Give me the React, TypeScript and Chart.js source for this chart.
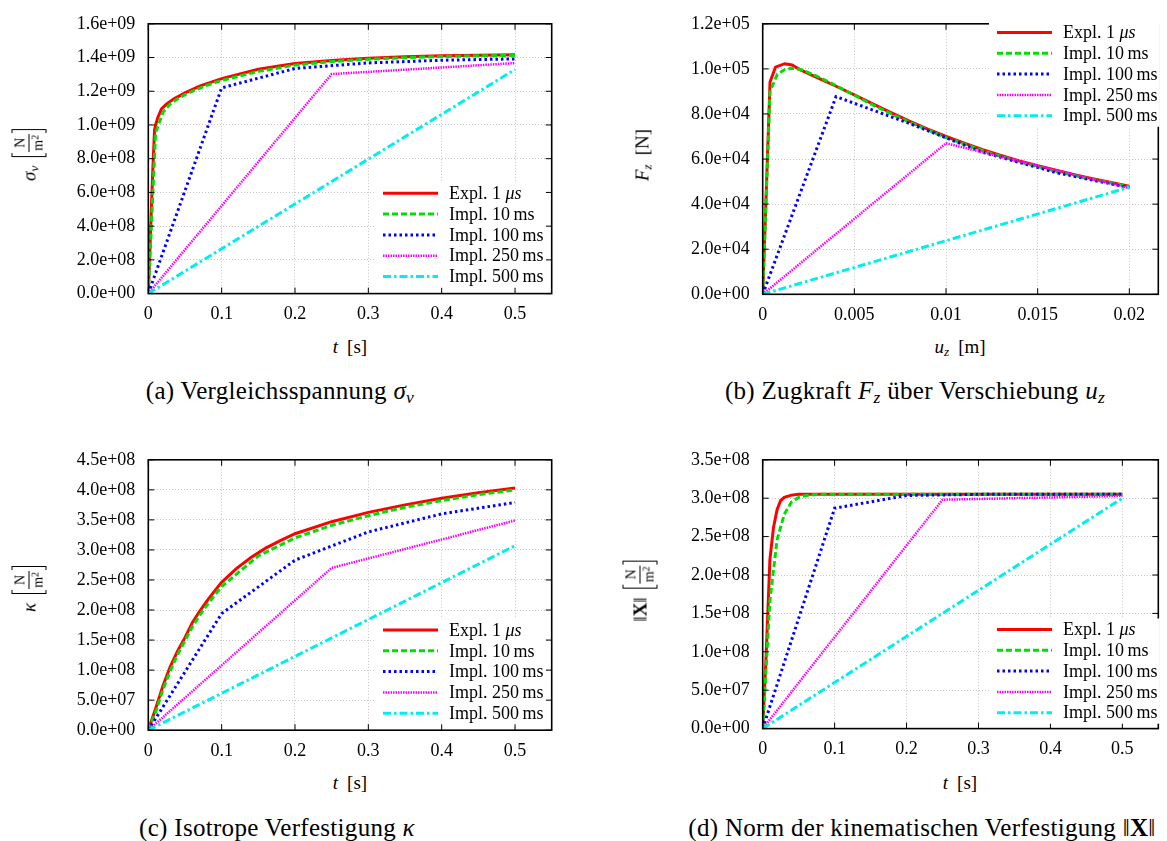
import React, { useEffect, useRef } from 'react';
import { Chart, registerables } from 'chart.js';

Chart.register(...registerables);

const FONT = "'Liberation Serif', 'Times New Roman', serif";
Chart.defaults.font.family = FONT;
Chart.defaults.font.size = 18;
Chart.defaults.color = '#000';

const SERIES_LABELS = ['Expl. 1 μs', 'Impl. 10\u2009ms', 'Impl. 100\u2009ms', 'Impl. 250\u2009ms', 'Impl. 500\u2009ms'];

// ---- shared time grids of the implicit runs ----
const tImpl10 = [0, 0.01, 0.02, 0.03, 0.04, 0.05, 0.06, 0.07, 0.08, 0.09, 0.1, 0.15, 0.2, 0.25, 0.3, 0.35, 0.4, 0.45, 0.5];
const tImpl100 = [0, 0.1, 0.2, 0.3, 0.4, 0.5];
const tImpl250 = [0, 0.25, 0.5];
const tImpl500 = [0, 0.5];

// ---- (a) Vergleichsspannung ----
const tExplA = [0, 0.003, 0.006, 0.0085, 0.01, 0.013, 0.018, 0.025, 0.035, 0.05, 0.07, 0.1, 0.15, 0.2, 0.25, 0.3, 0.35, 0.4, 0.45, 0.5];
const sigExpl = [0, 0.36e9, 0.72e9, 0.97e9, 1.0e9, 1.045e9, 1.095e9, 1.125e9, 1.155e9, 1.19e9, 1.23e9, 1.275e9, 1.33e9, 1.365e9, 1.383e9, 1.396e9, 1.404e9, 1.41e9, 1.414e9, 1.417e9];
const sigImpl10 = [0, 0.955e9, 1.075e9, 1.125e9, 1.155e9, 1.18e9, 1.2e9, 1.218e9, 1.235e9, 1.25e9, 1.264e9, 1.318e9, 1.355e9, 1.376e9, 1.39e9, 1.399e9, 1.406e9, 1.41e9, 1.413e9];
const sigImpl100 = [0, 1.22e9, 1.335e9, 1.368e9, 1.384e9, 1.392e9];
const sigImpl250 = [0, 1.302e9, 1.367e9];
const sigImpl500 = [0, 1.329e9];

// ---- (b) Zugkraft über Verschiebung ----
const uExpl = [0, 0.0002, 0.0004, 0.0007, 0.0012, 0.0016, 0.002, 0.003, 0.004, 0.005, 0.006, 0.007, 0.008, 0.009, 0.01, 0.011, 0.012, 0.013, 0.014, 0.015, 0.016, 0.017, 0.018, 0.019, 0.02];
const fExpl = [0, 47000, 94200, 100800, 102300, 101700, 99800, 96000, 92300, 88500, 84500, 80600, 76800, 73300, 70000, 67000, 64200, 61600, 59200, 57000, 55000, 53100, 51300, 49600, 48000];
const uImpl10 = [0, 0.0004, 0.0008, 0.0012, 0.0016, 0.002, 0.0024, 0.0028, 0.0032, 0.0036, 0.004, 0.006, 0.008, 0.01, 0.012, 0.014, 0.016, 0.018, 0.02];
const fImpl10 = [0, 90000, 97600, 99700, 100300, 99800, 98700, 97300, 95800, 94200, 92600, 84000, 76300, 69500, 63700, 58700, 54500, 50900, 47800];
const uImpl100 = [0, 0.004, 0.008, 0.012, 0.016, 0.02];
const fImpl100 = [0, 87700, 75800, 63000, 54000, 47300];
const uImpl250 = [0, 0.01, 0.02];
const fImpl250 = [0, 67000, 47100];
const uImpl500 = [0, 0.02];
const fImpl500 = [0, 47500];

// ---- (c) Isotrope Verfestigung ----
const tExplC = [0, 0.01, 0.02, 0.03, 0.04, 0.05, 0.06, 0.07, 0.08, 0.09, 0.1, 0.12, 0.14, 0.16, 0.18, 0.2, 0.25, 0.3, 0.35, 0.4, 0.45, 0.5];
const kapExpl = [0, 0.36e8, 0.74e8, 1.06e8, 1.32e8, 1.54e8, 1.79e8, 1.98e8, 2.15e8, 2.31e8, 2.46e8, 2.69e8, 2.875e8, 3.03e8, 3.155e8, 3.27e8, 3.47e8, 3.625e8, 3.75e8, 3.86e8, 3.95e8, 4.03e8];
const kapImpl10 = [0, 0.3e8, 0.68e8, 0.99e8, 1.26e8, 1.49e8, 1.72e8, 1.91e8, 2.08e8, 2.24e8, 2.39e8, 2.9e8, 3.2e8, 3.41e8, 3.57e8, 3.71e8, 3.82e8, 3.92e8, 4.0e8];
const kapImpl100 = [0, 1.94e8, 2.83e8, 3.3e8, 3.6e8, 3.79e8];
const kapImpl250 = [0, 2.7e8, 3.49e8];
const kapImpl500 = [0, 3.07e8];

// ---- (d) Norm der kinematischen Verfestigung ----
const tExplD = [0, 0.005, 0.01, 0.015, 0.02, 0.025, 0.03, 0.04, 0.05, 0.1, 0.2, 0.3, 0.4, 0.5];
const kinExpl = [0, 1.0e8, 2.2e8, 2.62e8, 2.85e8, 2.97e8, 3.01e8, 3.04e8, 3.05e8, 3.05e8, 3.05e8, 3.05e8, 3.05e8, 3.05e8];
const kinImpl10 = [0, 1.66e8, 2.46e8, 2.79e8, 2.95e8, 3.01e8, 3.035e8, 3.045e8, 3.05e8, 3.05e8, 3.05e8, 3.05e8, 3.05e8, 3.05e8, 3.05e8, 3.05e8, 3.05e8, 3.05e8, 3.05e8];
const kinImpl100 = [0, 2.87e8, 3.035e8, 3.05e8, 3.05e8, 3.05e8];
const kinImpl250 = [0, 2.98e8, 3.03e8];
const kinImpl500 = [0, 3.0e8];

const STYLE = [
  { color: '#ff0000', width: 3, dash: [] as number[] },
  { color: '#00e000', width: 3, dash: [6, 3] },
  { color: '#0000ff', width: 3, dash: [2.5, 3] },
  { color: '#ff00ff', width: 2.5, dash: [1.5, 1] },
  { color: '#00eeee', width: 3, dash: [8, 3, 2.5, 3] },
];

function fmtExp(v: number): string {
  if (Math.abs(v) < 1e-12) return '0.0e+00';
  let e = Math.floor(Math.log10(Math.abs(v)) + 1e-9);
  let m = v / Math.pow(10, e);
  if (Math.abs(m) >= 9.95) { m /= 10; e += 1; }
  return m.toFixed(1) + 'e+' + String(e).padStart(2, '0');
}
function fmtPlain(v: number): string {
  return String(parseFloat(v.toFixed(6)));
}

type Panel = {
  canvas: { left: number; top: number; width: number; height: number };
  area: { left: number; right: number; top: number; bottom: number };
  xMax: number; xStep: number; yMax: number; yStep: number;
  legend: { x: number; y: number };
  series: { x: number[]; y: number[] }[];
};

const PANELS: Panel[] = [
  {
    canvas: { left: 0, top: 0, width: 580, height: 330 },
    area: { left: 148.3, right: 551.7, top: 16.8, bottom: 293.6 },
    xMax: 0.55, xStep: 0.1, yMax: 1.6e9, yStep: 2e8,
    legend: { x: 383, y: 193.3 },
    series: [
      { x: tExplA, y: sigExpl }, { x: tImpl10, y: sigImpl10 }, { x: tImpl100, y: sigImpl100 },
      { x: tImpl250, y: sigImpl250 }, { x: tImpl500, y: sigImpl500 },
    ],
  },
  {
    canvas: { left: 580, top: 0, width: 587, height: 330 },
    area: { left: 182.7, right: 578.3, top: 16.3, bottom: 294.3 },
    xMax: 0.02158, xStep: 0.005, yMax: 1.2e5, yStep: 2e4,
    legend: { x: 417, y: 32.5 },
    series: [
      { x: uExpl, y: fExpl }, { x: uImpl10, y: fImpl10 }, { x: uImpl100, y: fImpl100 },
      { x: uImpl250, y: fImpl250 }, { x: uImpl500, y: fImpl500 },
    ],
  },
  {
    canvas: { left: 0, top: 436, width: 580, height: 330 },
    area: { left: 148.3, right: 551.7, top: 16.4, bottom: 294.2 },
    xMax: 0.55, xStep: 0.1, yMax: 4.5e8, yStep: 5e7,
    legend: { x: 383, y: 194 },
    series: [
      { x: tExplC, y: kapExpl }, { x: tImpl10, y: kapImpl10 }, { x: tImpl100, y: kapImpl100 },
      { x: tImpl250, y: kapImpl250 }, { x: tImpl500, y: kapImpl500 },
    ],
  },
  {
    canvas: { left: 580, top: 436, width: 587, height: 330 },
    area: { left: 182.7, right: 578.3, top: 17.3, bottom: 292.6 },
    xMax: 0.55, xStep: 0.1, yMax: 3.5e8, yStep: 5e7,
    legend: { x: 417, y: 193.5 },
    series: [
      { x: tExplD, y: kinExpl }, { x: tImpl10, y: kinImpl10 }, { x: tImpl100, y: kinImpl100 },
      { x: tImpl250, y: kinImpl250 }, { x: tImpl500, y: kinImpl500 },
    ],
  },
];

const gnuplotPlugin = {
  id: 'gnuplotFrame',
  afterDatasetsDraw(chart: any, _args: any, opts: any) {
    const { ctx, chartArea: a, scales } = chart;
    ctx.save();
    ctx.setLineDash([]);
    ctx.strokeStyle = '#000';
    ctx.lineWidth = 1;
    const tl = 6;
    ctx.beginPath();
    scales.x.ticks.forEach((t: any) => {
      const p = scales.x.getPixelForValue(t.value);
      ctx.moveTo(p, a.bottom); ctx.lineTo(p, a.bottom - tl);
      ctx.moveTo(p, a.top); ctx.lineTo(p, a.top + tl);
    });
    scales.y.ticks.forEach((t: any) => {
      const p = scales.y.getPixelForValue(t.value);
      ctx.moveTo(a.left, p); ctx.lineTo(a.left + tl, p);
      ctx.moveTo(a.right, p); ctx.lineTo(a.right - tl, p);
    });
    ctx.stroke();
    ctx.lineWidth = 1.6;
    ctx.strokeRect(a.left, a.top, a.right - a.left, a.bottom - a.top);

    // legend (opaque key inside the plot)
    const lx = opts.x, ly = opts.y, gap = opts.gap, sLen = opts.sampleLen, tOff = opts.textOffset;
    const normal = `18px ${FONT}`;
    const italic = `italic 18px ${FONT}`;
    const ds = chart.data.datasets;
    const parts = ds.map((d: any) => {
      const m = String(d.label).match(/^(.*?)(μs)$/);
      return m ? [{ t: m[1], f: normal }, { t: m[2], f: italic }] : [{ t: d.label, f: normal }];
    });
    const widths = parts.map((ps: any[]) => ps.reduce((w, p) => { ctx.font = p.f; return w + ctx.measureText(p.t).width; }, 0));
    const maxW = Math.max(...widths);
    ctx.fillStyle = '#fff';
    ctx.fillRect(lx - 8, ly - 11, tOff + maxW + 10, gap * (ds.length - 1) + 22);
    ds.forEach((d: any, i: number) => {
      const y = ly + i * gap;
      ctx.strokeStyle = d.borderColor;
      ctx.lineWidth = d.borderWidth;
      ctx.setLineDash(d.borderDash || []);
      ctx.lineCap = 'butt';
      ctx.beginPath();
      ctx.moveTo(lx, y); ctx.lineTo(lx + sLen, y);
      ctx.stroke();
      ctx.setLineDash([]);
      ctx.fillStyle = '#000';
      ctx.textBaseline = 'middle';
      ctx.textAlign = 'left';
      let x = lx + tOff;
      parts[i].forEach((p: any) => {
        ctx.font = p.f;
        ctx.fillText(p.t, x, y + 1);
        x += ctx.measureText(p.t).width;
      });
    });
    ctx.restore();
  },
};

function PanelChart({ p }: { p: Panel }) {
  const ref = useRef<HTMLCanvasElement>(null);
  useEffect(() => {
    const c = ref.current;
    if (!c) return;
    const { canvas, area } = p;
    const tickFont = { family: FONT, size: 18, style: 'normal' as const, weight: 'normal' as const, lineHeight: 1.2 };
    const chart = new Chart(c, {
      type: 'line',
      data: {
        datasets: p.series.map((s, i) => ({
          label: SERIES_LABELS[i],
          data: s.x.map((x, j) => ({ x, y: s.y[j] })),
          borderColor: STYLE[i].color,
          borderWidth: STYLE[i].width,
          borderDash: STYLE[i].dash,
          borderCapStyle: 'butt',
          borderJoinStyle: 'miter',
          pointRadius: 0,
          tension: 0,
          fill: false,
          order: -i,
        })),
      },
      options: {
        animation: false,
        responsive: false,
        maintainAspectRatio: false,
        events: [],
        font: { family: FONT, size: 18 },
        layout: { padding: { left: 0, top: area.top, right: canvas.width - area.right, bottom: 0 } },
        plugins: {
          legend: { display: false },
          tooltip: { enabled: false },
          gnuplotFrame: { x: p.legend.x, y: p.legend.y, gap: 20.8, sampleLen: 55, textOffset: 66 },
        } as any,
        scales: {
          x: {
            type: 'linear',
            min: 0,
            max: p.xMax,
            afterFit: (s: any) => { s.height = canvas.height - area.bottom; },
            ticks: {
              stepSize: p.xStep,
              includeBounds: false,
              autoSkip: false,
              maxRotation: 0,
              color: '#000',
              font: tickFont,
              padding: 10,
              callback: (v: any) => fmtPlain(Number(v)),
            },
            grid: { color: '#c4c4c4', lineWidth: 1, drawTicks: false },
            border: { display: false, dash: [1, 2] },
          },
          y: {
            type: 'linear',
            min: 0,
            max: p.yMax,
            afterFit: (s: any) => { s.width = area.left; },
            ticks: {
              stepSize: p.yStep,
              includeBounds: false,
              autoSkip: false,
              color: '#000',
              font: tickFont,
              padding: 13,
              callback: (v: any) => fmtExp(Number(v)),
            },
            grid: { color: '#c4c4c4', lineWidth: 1, drawTicks: false },
            border: { display: false, dash: [1, 2] },
          },
        },
      } as any,
      plugins: [gnuplotPlugin as any],
    });
    return () => chart.destroy();
  }, [p]);
  return (
    <canvas
      ref={ref}
      width={p.canvas.width}
      height={p.canvas.height}
      style={{ position: 'absolute', left: p.canvas.left, top: p.canvas.top, width: p.canvas.width, height: p.canvas.height }}
    />
  );
}

function Unit() {
  return (
    <span style={{ display: 'inline-flex', alignItems: 'center', marginLeft: 9 }}>
      <span style={{ display: 'inline-block', width: 3, height: 33, borderLeft: '1px solid #000', borderTop: '1px solid #000', borderBottom: '1px solid #000' }} />
      <span style={{ display: 'inline-flex', flexDirection: 'column', alignItems: 'center', fontSize: 14, lineHeight: '14px', margin: '0 1px' }}>
        <span style={{ padding: '0 1px 1px' }}>N</span>
        <span style={{ borderTop: '1.4px solid #000', padding: '1px 1px 0' }}>m<sup style={{ fontSize: 10, lineHeight: '10px', verticalAlign: 4 }}>2</sup></span>
      </span>
      <span style={{ display: 'inline-block', width: 3, height: 33, borderRight: '1px solid #000', borderTop: '1px solid #000', borderBottom: '1px solid #000' }} />
    </span>
  );
}

const rotStyle = (cx: number, cy: number): React.CSSProperties => ({
  position: 'absolute', left: cx, top: cy, transform: 'translate(-50%, -50%) rotate(-90deg)',
  whiteSpace: 'nowrap', fontSize: 19, display: 'flex', alignItems: 'center', lineHeight: 1,
});
const centerStyle = (cx: number, cy: number, size: number): React.CSSProperties => ({
  position: 'absolute', left: cx, top: cy, transform: 'translate(-50%, -50%)',
  whiteSpace: 'nowrap', fontSize: size, lineHeight: 1,
});
const capStyle = (cx: number, cy: number): React.CSSProperties => ({
  ...centerStyle(cx, cy, 25), letterSpacing: 0.3,
});
const subS: React.CSSProperties = { fontSize: '0.7em', verticalAlign: '-0.25em', lineHeight: 0 };

export default function App() {
  return (
    <div style={{ position: 'absolute', left: 0, top: 0, width: 1167, height: 841, background: '#fff', fontFamily: FONT, color: '#000' }}>
      {PANELS.map((p, i) => <PanelChart key={i} p={p} />)}

      {/* y-axis titles */}
      <div style={rotStyle(29, 155)}><span><i>σ</i><i style={subS}>v</i></span><Unit /></div>
      <div style={rotStyle(642, 155)}><span><i>F</i><i style={subS}>z</i></span><span style={{ marginLeft: 9 }}>[N]</span></div>
      <div style={rotStyle(29, 589)}><span><i>κ</i></span><Unit /></div>
      <div style={rotStyle(640, 591)}><span>‖<b>X</b>‖</span><Unit /></div>

      {/* x-axis titles */}
      <div style={centerStyle(350, 346, 19)}><i>t</i><span style={{ marginLeft: 9 }}>[s]</span></div>
      <div style={centerStyle(960, 346, 19)}><i>u</i><i style={subS}>z</i><span style={{ marginLeft: 9 }}>[m]</span></div>
      <div style={centerStyle(350, 782, 19)}><i>t</i><span style={{ marginLeft: 9 }}>[s]</span></div>
      <div style={centerStyle(960, 782, 19)}><i>t</i><span style={{ marginLeft: 9 }}>[s]</span></div>

      {/* captions */}
      <div style={capStyle(280, 390)}>(a) Vergleichsspannung <i>σ</i><i style={subS}>v</i></div>
      <div style={capStyle(915, 390)}>(b) Zugkraft <i>F</i><i style={subS}>z</i> über Verschiebung <i>u</i><i style={subS}>z</i></div>
      <div style={capStyle(277, 827)}>(c) Isotrope Verfestigung <i>κ</i></div>
      <div style={capStyle(922, 827)}>(d) Norm der kinematischen Verfestigung ‖<b>X</b>‖</div>
    </div>
  );
}
